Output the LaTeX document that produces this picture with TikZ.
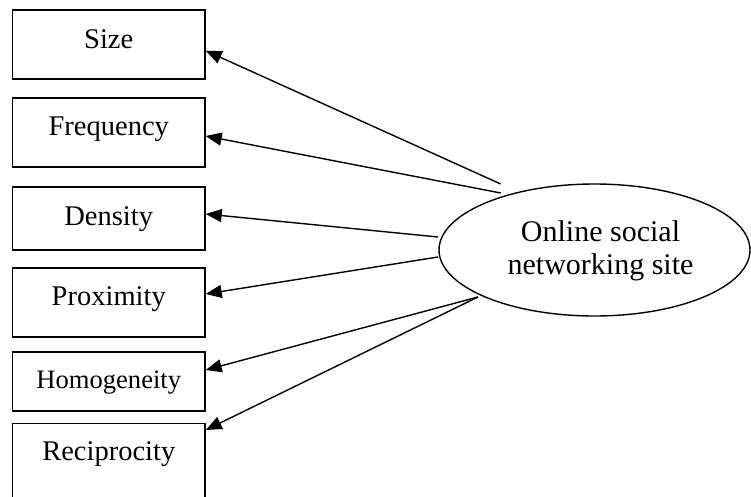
\documentclass[tikz,border=0pt]{standalone}
\usepackage{fontspec}
\setmainfont{Liberation Serif}
\usetikzlibrary{arrows.meta,shapes.geometric}
\begin{document}
\begin{tikzpicture}[x=1pt,y=-1pt,
  box/.style={draw,line width=1.4pt,rectangle,inner sep=0pt,minimum width=192.5pt},
  lbl/.style={anchor=base,inner sep=0pt,font=\fontsize{28.5}{32}\selectfont},
  arr/.style={line width=1.4pt,-{Triangle[length=16pt,width=13pt]}}]
\useasboundingbox (0,0) rectangle (751,497);
\clip (0,0) rectangle (751,497);
% measure boxes
\node[box,minimum height=69pt] (size) at (108.75,44.5) {};
\node[box,minimum height=69pt] (freq) at (108.75,132.5) {};
\node[box,minimum height=63pt] (dens) at (108.75,218.5) {};
\node[box,minimum height=69pt] (prox) at (108.75,302.5) {};
\node[box,minimum height=59pt] (homo) at (108.75,381.5) {};
\node[box,minimum height=100pt,anchor=north] (recip) at (108.75,423) {};
% box labels
\node[lbl] (sizeT) at (108.75,48.3) {Size};
\node[lbl] (freqT) at (108.75,136) {Frequency};
\node[lbl] (densT) at (108.75,225) {Density};
\node[lbl] (proxT) at (108.75,305) {Proximity};
\node[lbl,font=\fontsize{26.6}{30}\selectfont] (homoT) at (108.75,388) {Homogeneity};
\node[lbl] (recipT) at (108.75,460) {Reciprocity};
% central construct
\node[draw,ellipse,line width=1.4pt,inner sep=0pt,minimum width=311pt,minimum height=132pt] (osn) at (594.5,250) {};
\node[lbl,font=\fontsize{30}{32}\selectfont] (osnA) at (600.5,241.7) {Online social};
\node[lbl,font=\fontsize{30}{32}\selectfont] (osnB) at (600.5,274) {networking site};
% arrow origins near the ellipse
\coordinate (o1) at (500.7,184);
\coordinate (o2) at (500.7,193);
\coordinate (o3) at (438,237);
\coordinate (o4) at (438,257);
\coordinate (o5) at (478,297);
% arrows
\draw[arr] (o1) -- ([yshift=-6.2pt]size.east);
\draw[arr] (o2) -- ([yshift=-3.5pt]freq.east);
\draw[arr] (o3) -- ([yshift=4.5pt]dens.east);
\draw[arr] (o4) -- ([yshift=8.5pt]prox.east);
\draw[arr] (o5) -- ([yshift=11.5pt]homo.east);
\draw[arr] (o5) -- ([yshift=-7pt]recip.north east);
\end{tikzpicture}
\end{document}
